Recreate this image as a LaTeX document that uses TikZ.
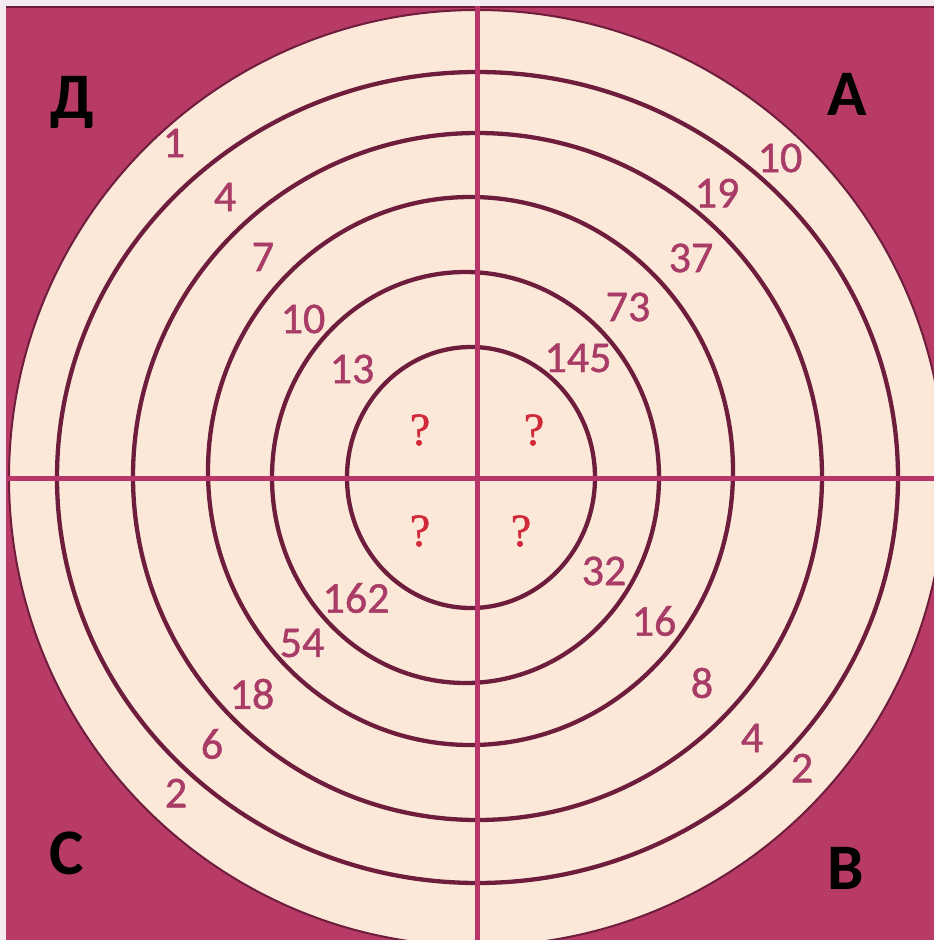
\documentclass[tikz,border=0pt]{standalone}
\usepackage{fontspec}
\setmainfont{Carlito}
\newfontfamily\qfont[FakeBold=1.2]{Liberation Serif}
\newfontfamily\numfont[FakeBold=1.0]{Carlito}
\definecolor{bgpink}{HTML}{F6EAF1}
\definecolor{magbg}{HTML}{B83A66}
\definecolor{cream}{HTML}{FCE8D9}
\definecolor{ringc}{HTML}{6E1E3C}
\definecolor{crossc}{HTML}{B8356A}
\definecolor{numc}{HTML}{A83C66}
\definecolor{qc}{HTML}{D02A3A}
\tikzset{
  ring/.style={draw=ringc, line width=4.3pt},
  crossline/.style={draw=crossc, line width=5pt},
  num/.style={text=numc, inner sep=0pt, font=\numfont\fontsize{44}{44}\selectfont},
  quest/.style={text=qc, inner sep=0pt, font=\qfont\fontsize{46}{46}\selectfont},
  letter/.style={text=black, inner sep=0pt, font=\bfseries\fontsize{65}{65}\selectfont}
}
\begin{document}
\begin{tikzpicture}[x=1pt,y=-1pt]
\useasboundingbox (0,0) rectangle (934,940);
\fill[bgpink] (0,0) rectangle (934,940);
\fill[magbg] (6,6) rectangle (934,940);
\draw[ringc, line width=1.5pt] (6,7) -- (934,7);
% target disc
\fill[cream] (477,478) circle [radius=468];
\draw[ringc, line width=2pt] (477,478) circle [radius=468];
% rings
\draw[ring] (477.5,477.5) ellipse [x radius=420.5, y radius=405.5];
\draw[ring] (477.5,476.5) ellipse [x radius=344.5, y radius=343.5];
\draw[ring] (470.5,471) ellipse [x radius=262.5, y radius=274];
\draw[ring] (465.5,477.5) ellipse [x radius=193.5, y radius=205.5];
\draw[ring] (471,477.5) ellipse [x radius=124, y radius=130.5];
% cross
\coordinate (L) at (6,478);
\coordinate (R) at (934,478);
\coordinate (T) at (477,6);
\coordinate (B) at (477,940);
\draw[crossline] (L) -- (R);
\draw[crossline] (T) -- (B);
% corner letters
\node[letter] (lD) at (72,102) {Д};
\node[letter] (lA) at (847,94) {А};
\node[letter] (lB) at (846,868) {В};
\node[letter] (lC) at (67,853) {С};
% top-left numbers
\node[num] (d1) at (174,143) {1};
\node[num] (d4) at (225,197) {4};
\node[num] (d7) at (263,257) {7};
\node[num] (d10) at (303,319) {10};
\node[num] (d13) at (352,369) {13};
% top-right numbers
\node[num] (a10) at (780,158) {10};
\node[num] (a19) at (717,193) {19};
\node[num] (a37) at (691,258) {37};
\node[num] (a73) at (628,307) {73};
\node[num] (a145) at (578,358) {145};
% bottom-right numbers
\node[num] (b32) at (604,571) {32};
\node[num] (b16) at (654,621) {16};
\node[num] (b8) at (702,683) {8};
\node[num] (b4) at (752,738) {4};
\node[num] (b2) at (802,768) {2};
% bottom-left numbers
\node[num] (c162) at (356,598) {162};
\node[num] (c54) at (302,643) {54};
\node[num] (c18) at (252,694) {18};
\node[num] (c6) at (212,744) {6};
\node[num] (c2) at (176,793) {2};
% question marks
\node[quest] (q1) at (420,430) {?};
\node[quest] (q2) at (534,430) {?};
\node[quest] (q3) at (420,531) {?};
\node[quest] (q4) at (521,531) {?};
\end{tikzpicture}
\end{document}
